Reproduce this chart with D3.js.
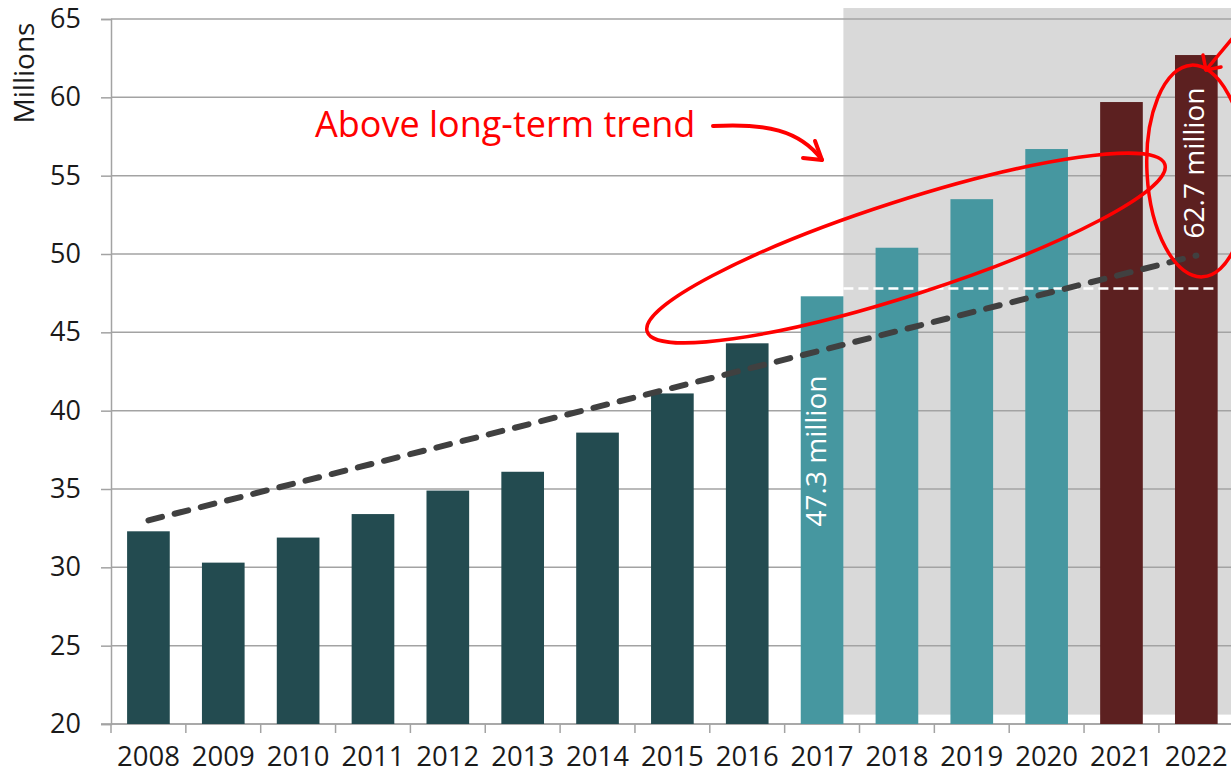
<!DOCTYPE html>
<html>
<head>
<meta charset="utf-8">
<script src="https://cdn.jsdelivr.net/npm/d3@7"></script>
<style>
  body { margin: 0; background: #fff; }
  svg { display: block; font-family: "Open Sans", sans-serif; }
</style>
</head>
<body>
<div id="chart"></div>
<script>
// data
const years = ["2008","2009","2010","2011","2012","2013","2014","2015","2016","2017","2018","2019","2020","2021","2022"];
const values = [32.3, 30.3, 31.9, 33.4, 34.9, 36.1, 38.6, 41.1, 44.3, 47.3, 50.4, 53.5, 56.7, 59.7, 62.7];
const periods = ["past","past","past","past","past","past","past","past","past","recent","recent","recent","recent","latest","latest"];
const yTicks = [20, 25, 30, 35, 40, 45, 50, 55, 60, 65];
const trendYears = ["2008", "2022"];
const trendValues = [33.0, 49.9];
const refLevel = 47.8;
const labelYears = ["2017", "2022"];
const labelTexts = ["47.3 million", "62.7 million"];

const width = 1231, height = 781;
const left = 111, step = 74.85;

const colors = { past: "#234b50", recent: "#4697a0", latest: "#5c2020" };

const svg = d3.select("#chart").append("svg")
    .attr("width", width)
    .attr("height", height);

const x = d3.scaleBand()
    .domain(years)
    .range([left, left + step * years.length])
    .paddingInner(0.43)
    .paddingOuter(0.215);

const y = d3.scaleLinear()
    .domain([20, 65])
    .range([724, 19]);

const bw = x.bandwidth();
const gap = (x.step() - bw) / 2;

// shaded region for recent years
svg.append("rect")
    .attr("x", x("2017") + bw)
    .attr("y", y(65.7))
    .attr("width", width - (x("2017") + bw))
    .attr("height", y(20.6) - y(65.7))
    .attr("fill", "#d9d9d9");

// gridlines
svg.append("g").selectAll("line")
    .data(yTicks)
    .join("line")
    .attr("x1", left)
    .attr("x2", width)
    .attr("y1", d => y(d))
    .attr("y2", d => y(d))
    .attr("stroke", "#a3a3a3")
    .attr("stroke-width", 1.5);

// y axis
let yAxis = svg.append("g")
    .attr("transform", `translate(${left},0)`)
    .call(d3.axisLeft(y).tickValues(yTicks).tickSize(10).tickPadding(20));
yAxis.select(".domain").attr("stroke", "#a3a3a3").attr("stroke-width", 1.5);
yAxis.selectAll(".tick line").attr("stroke", "#a3a3a3").attr("stroke-width", 1.5);
yAxis.selectAll("text")
    .attr("font-size", 27)
    .attr("font-family", "Open Sans")
    .attr("fill", "#1a1a1a");

svg.append("text")
    .attr("transform", `translate(34,73) rotate(-90)`)
    .attr("text-anchor", "middle")
    .attr("font-size", 28)
    .attr("fill", "#1a1a1a")
    .text("Millions");

// x axis: labels centred under bars, ticks between categories
let xAxis = svg.append("g")
    .attr("transform", `translate(0,${y(20)})`)
    .call(d3.axisBottom(x).tickSize(0).tickPadding(22));
xAxis.select(".domain").remove();
xAxis.selectAll("text")
    .attr("font-size", 27.5)
    .attr("font-family", "Open Sans")
    .attr("fill", "#1a1a1a");

svg.append("line")
    .attr("x1", left - 10)
    .attr("x2", width)
    .attr("y1", y(20))
    .attr("y2", y(20))
    .attr("stroke", "#a3a3a3")
    .attr("stroke-width", 1.5);

svg.append("g").selectAll("line")
    .data(years)
    .join("line")
    .attr("x1", d => x(d) - gap)
    .attr("x2", d => x(d) - gap)
    .attr("y1", y(20))
    .attr("y2", y(20) + 9)
    .attr("stroke", "#a3a3a3")
    .attr("stroke-width", 1.5);

// bars
svg.append("g").selectAll("rect")
    .data(years)
    .join("rect")
    .attr("x", d => x(d))
    .attr("y", (d, i) => y(values[i]))
    .attr("width", bw)
    .attr("height", (d, i) => y(20) - y(values[i]))
    .attr("fill", (d, i) => colors[periods[i]]);

// white dashed reference line
svg.append("line")
    .attr("x1", x("2017") + bw)
    .attr("x2", x("2022") + bw)
    .attr("y1", y(refLevel))
    .attr("y2", y(refLevel))
    .attr("stroke", "#fff")
    .attr("stroke-width", 2.5)
    .attr("stroke-dasharray", "10,5");

// long-term trend
const trendLine = d3.line()
    .x(d => x(d[0]) + bw / 2)
    .y(d => y(d[1]));
svg.append("path")
    .datum(trendYears.map((d, i) => [d, trendValues[i]]))
    .attr("d", trendLine)
    .attr("fill", "none")
    .attr("stroke", "#404040")
    .attr("stroke-width", 6)
    .attr("stroke-linecap", "round")
    .attr("stroke-dasharray", "14,13");

// value labels inside bars
svg.append("g").selectAll("text")
    .data(labelYears)
    .join("text")
    .attr("transform", (d, i) => {
      let cx = x(d) + bw / 2 + (i == 0 ? 4 : 8);
      let cy = i == 0 ? 451 : 163;
      return `translate(${cx},${cy}) rotate(-90)`;
    })
    .attr("text-anchor", "middle")
    .attr("font-size", 28)
    .attr("fill", "#fff")
    .text((d, i) => labelTexts[i]);

// red hand-drawn annotations
const red = "#ff0000";
const ann = svg.append("g").attr("fill", "none").attr("stroke", red).attr("stroke-linecap", "round");

svg.append("text")
    .attr("x", 315)
    .attr("y", 137)
    .attr("font-size", 36)
    .attr("fill", red)
    .text("Above long-term trend");

ann.append("path")
    .attr("d", "M713,126 C765,123 800,130 822,160")
    .attr("stroke-width", 4);
ann.append("path")
    .attr("d", "M815,141 L822,160 L803,158")
    .attr("stroke-width", 4)
    .attr("stroke-linejoin", "round");

ann.append("ellipse")
    .attr("cx", 0).attr("cy", 0)
    .attr("rx", 272).attr("ry", 47)
    .attr("transform", "translate(906,248) rotate(-17.9)")
    .attr("stroke-width", 3.5);

ann.append("ellipse")
    .attr("cx", 0).attr("cy", 0)
    .attr("rx", 50).attr("ry", 106)
    .attr("transform", "translate(1197,171) rotate(-3)")
    .attr("stroke-width", 3.5);

ann.append("path")
    .attr("d", "M1236,34 L1206,70")
    .attr("stroke-width", 3.5);
ann.append("path")
    .attr("d", "M1203,55 L1206,70 L1221,67")
    .attr("stroke-width", 3.5)
    .attr("stroke-linejoin", "round");
</script>
</body>
</html>
